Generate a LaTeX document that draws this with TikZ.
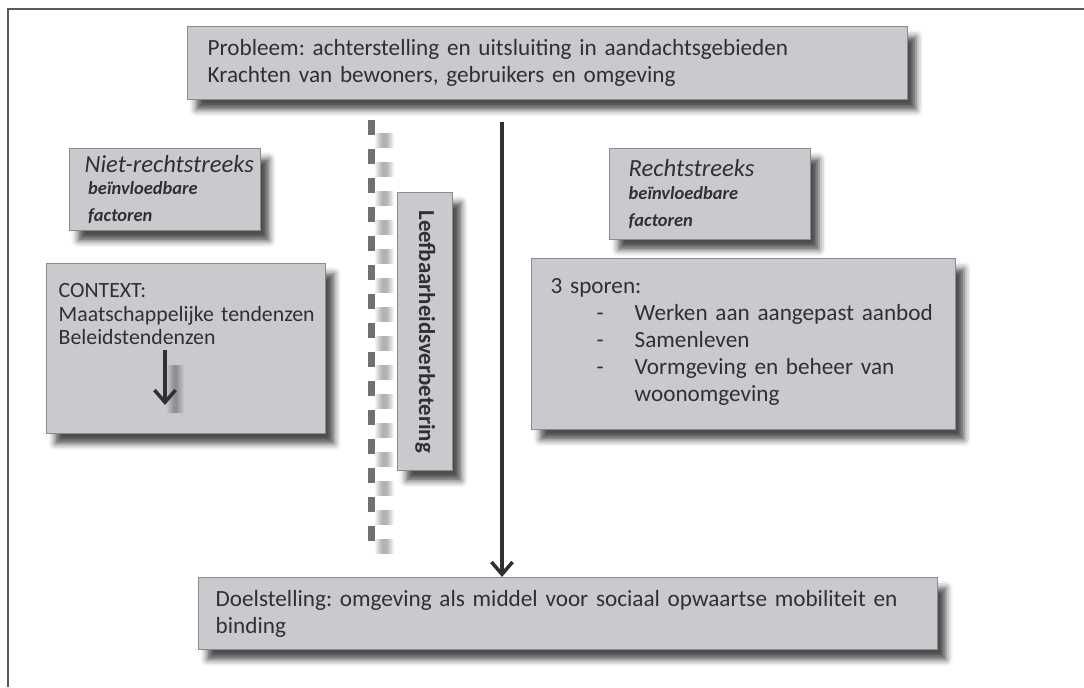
\documentclass[tikz,border=0pt]{standalone}
\usepackage{graphicx}
\usepackage{fontspec}
\setmainfont{Carlito}
\frenchspacing
\usepackage{tikz}
\usetikzlibrary{arrows.meta,shadows.blur}

\definecolor{boxgray}{RGB}{201,202,205}
\definecolor{edgegray}{RGB}{138,139,141}
\definecolor{inkgray}{RGB}{48,48,50}
\definecolor{dashgray}{RGB}{112,112,114}

\begin{document}
\begin{tikzpicture}[
  box/.style={draw=edgegray,fill=boxgray,line width=0.8pt,text=inkgray,align=left,anchor=north west,inner xsep=0pt,inner ysep=0pt,
    font=\fontsize{13.2}{15.3}\selectfont,
    blur shadow={shadow xshift=0.17cm,shadow yshift=-0.2cm,shadow blur radius=0.13cm,shadow opacity=70}},
  arr/.style={draw=inkgray,line width=2pt,-{Straight Barb[length=7pt,width=12pt,line width=2pt]}},
  ]
\useasboundingbox (0,0) rectangle (21.68,-13.74);
\draw[inkgray!80,line width=0.9pt] (21.68,-0.18) -- (0.16,-0.18) -- (0.16,-13.74);

\node[box,minimum width=14.4cm,minimum height=1.46cm,text width=13.6cm] (prob) at (3.74,-0.52)
  {Probleem: achterstelling en uitsluiting in aandachtsgebieden\\ Krachten van bewoners, gebruikers en omgeving};

\foreach \o in {0.02,0.06,...,0.3}
  \draw[black,opacity=0.045,line width=0.08cm+\o cm,dash pattern=on 0.3cm off 0.28cm] (7.68,-2.66) -- (7.68,-11.2);
\draw[dashgray,line width=0.14cm,dash pattern=on 0.3cm off 0.28cm] (7.42,-2.4) -- (7.42,-10.9);

\node[box,minimum width=3.82cm,minimum height=1.64cm,text width=3.22cm] (niet) at (1.38,-2.96)
  {{\fontsize{14}{15}\selectfont\itshape\mbox{Niet-rechtstreeks}}\\
   {\fontsize{10.5}{12.8}\selectfont\bfseries\itshape\hspace*{2pt}beïnvloedbare\\ \hspace*{2pt}factoren}};

\node[box,minimum width=5.58cm,minimum height=3.4cm,text width=5.1cm,font=\fontsize{12.4}{13.2}\selectfont] (ctx) at (0.92,-5.26)
  {CONTEXT:\\ \mbox{Maatschappelijke tendenzen}\\ Beleidstendenzen\\[0.92cm]\mbox{}};
\coordinate (ctxtop) at (3.3,-7.0);
\coordinate (ctxbot) at (3.3,-8.1);
\foreach \o in {0.02,0.06,...,0.3}
  \draw[black,opacity=0.04,line width=0.04cm+\o cm] ([xshift=0.2cm,yshift=-0.3cm]ctxtop) -- ([xshift=0.2cm,yshift=-0.15cm]ctxbot);
\draw[arr,line width=2.4pt] (ctxtop) -- (ctxbot);

\node[box,minimum width=1.1cm,minimum height=5.56cm] (leef) at (7.94,-3.84)
  {\rotatebox{-90}{\fontsize{13}{15}\selectfont\bfseries Leefbaarheidsverbetering}};

\node[box,minimum width=4.02cm,minimum height=1.82cm,text width=3.26cm] (rech) at (12.18,-2.96)
  {{\fontsize{14}{15}\selectfont\itshape Rechtstreeks}\\
   {\fontsize{10.5}{12.8}\selectfont\bfseries\itshape beïnvloedbare\\ factoren}};

\node[box,minimum width=8.48cm,minimum height=3.42cm,text width=7.72cm] (spor) at (10.62,-5.16)
  {3 sporen:\\ \begin{tabular}[t]{@{\hspace{0.92cm}}p{0.76cm}@{}l@{}}
   - & Werken aan aangepast aanbod\\
   - & Samenleven\\
   - & Vormgeving en beheer van\\
     & woonomgeving
   \end{tabular}};

\node[box,minimum width=14.78cm,minimum height=1.44cm,text width=14.1cm] (doel) at (3.96,-11.54)
  {Doelstelling: omgeving als middel voor sociaal opwaartse mobiliteit en\\ binding};

\coordinate (start) at (10.04,-2.44);
\draw[arr] (start) -- (doel.north -| start);
\end{tikzpicture}
\end{document}
